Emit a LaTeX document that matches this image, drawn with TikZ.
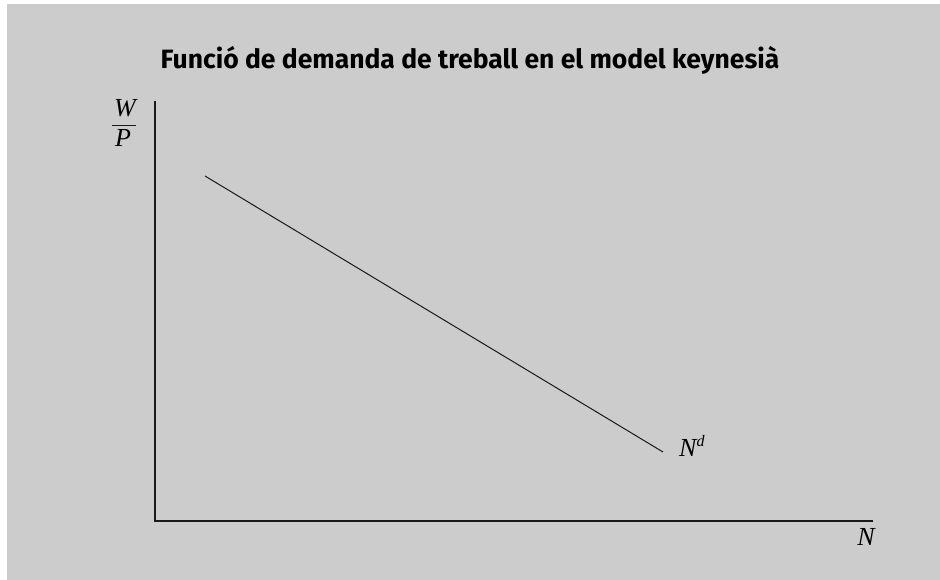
\documentclass[tikz,border=0pt]{standalone}
\usepackage{fontspec}
\setmainfont{Liberation Serif}
\newfontfamily\titlefont{Fira Sans}
\definecolor{bggray}{HTML}{CCCCCC}
\begin{document}
\begin{tikzpicture}[x=1pt,y=-1pt,
  axisline/.style={line width=1.3pt,black!90},
  curveline/.style={line width=1pt,black!90},
  lbl/.style={font=\fontsize{26}{28}\selectfont\itshape,inner sep=0pt}]
\useasboundingbox (0,0) rectangle (940,580);
\fill[white] (0,0) rectangle (940,580);
\fill[bggray] (7,4) rectangle (940,580);
\node[font=\titlefont\fontsize{26.5}{30}\selectfont\bfseries,inner sep=0pt,anchor=base] (title) at (470,69) {Funció de demanda de treball en el model keynesià};
\coordinate (top) at (155,101);
\coordinate (origin) at (155,521);
\coordinate (right) at (873,521);
\draw[axisline] (top) -- (origin) -- (right);
\coordinate (d1) at (205,176);
\coordinate (d2) at (663,452);
\draw[curveline] (d1) -- (d2);
\node[lbl,anchor=base] (w) at (125,117) {W};
\coordinate (barl) at (112,125);
\coordinate (barr) at (136,125);
\draw[line width=0.9pt,black!90] (barl) -- (barr);
\node[lbl,anchor=base] (p) at (123,147) {P};
\node[lbl,anchor=base west] (nd) at (679,456) {N\textsuperscript{\fontsize{16}{16}\selectfont d}};
\node[lbl,anchor=base east] (n) at (875,545) {N};
\end{tikzpicture}
\end{document}
